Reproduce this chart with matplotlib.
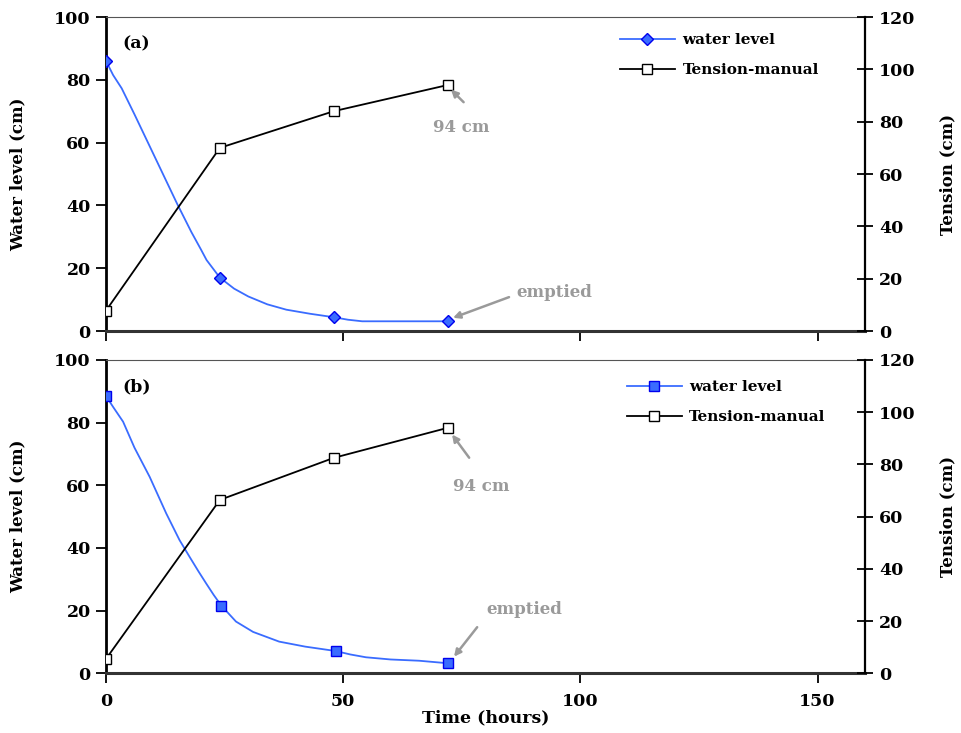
import matplotlib
matplotlib.use("Agg")
import matplotlib.pyplot as plt

plt.rcParams['font.family'] = ['DejaVu Serif']
plt.rcParams['font.weight'] = 'bold'
plt.rcParams['axes.labelweight'] = 'bold'

# panel (a): water level trace (hours, cm) and manual tensiometer readings
t_a = [0, 1.5, 3.3, 6, 9, 12, 15, 18, 20, 21.2, 22.5, 24, 27, 30, 34, 38, 43, 48, 51, 54, 60, 66, 72]
wl_a = [86, 81.5, 77.3, 69, 59.5, 50, 40.5, 31.5, 26, 22.6, 20, 17, 13.5, 11, 8.5, 6.8, 5.5, 4.4, 3.6, 3.1, 3.1, 3.1, 3.1]
tens_t_a = [0, 24, 48, 72]
tens_a = [7.8, 70, 84, 94]

# panel (b)
t_b = [0, 1.5, 3.6, 6, 9.2, 12.7, 15.5, 17.6, 19.5, 21.1, 22.7, 24.3, 27.4, 31, 36.5, 42, 48.4, 51.5, 54.8, 60, 66, 72]
wl_b = [88.5, 85, 80.3, 72, 62.7, 51, 42.5, 37.2, 32.5, 28.7, 25, 21.6, 16.5, 13.2, 10.1, 8.5, 7.1, 6.0, 5.1, 4.4, 4.0, 3.2]
tens_t_b = [0, 24, 48, 72]
tens_b = [5.5, 66.4, 82.5, 94]

marker_t_a = [0, 24, 48, 72]
marker_t_b = [0, 24.3, 48.4, 72]

BLUE = '#3a6cff'
GREY = '#9a9a9a'

fig = plt.figure(figsize=(9.62, 7.33), dpi=100)
ax_a = fig.add_axes([0.1102, 0.5484, 0.789, 0.4284])
ax_b = fig.add_axes([0.1102, 0.0815, 0.789, 0.4274])


def draw_panel(ax, t, wl, mt, tt, tens, marker, msize, tag, leg_xy, note94, note_empty):
    ev = [t.index(m) for m in mt]
    l1, = ax.plot(t, wl, color=BLUE, lw=1.3, marker=marker, ms=msize, markevery=ev,
                  mfc=BLUE, mec='#0000ee', mew=1.0, label='water level', zorder=3)
    ax.set_xlim(0, 160)
    ax.set_ylim(0, 100)
    ax.set_yticks([0, 20, 40, 60, 80, 100])
    ax.set_xticks([0, 50, 100, 150])
    ax.set_ylabel('Water level (cm)', fontsize=12, labelpad=20)
    ax.tick_params(axis='y', direction='out', length=7, width=1.3, labelsize=12.5, pad=4)
    ax.tick_params(axis='x', direction='out', length=7, width=1.3, labelsize=12.5, pad=7)
    ax.spines['left'].set_linewidth(2)
    ax.spines['bottom'].set_linewidth(2.2)
    ax.spines['bottom'].set_color('#333333')
    ax.spines['top'].set_linewidth(0.8)
    ax.spines['top'].set_color('#555555')
    ax.spines['right'].set_visible(False)
    ax.text(0.021, 0.915, tag, transform=ax.transAxes, fontsize=12.5, fontweight='bold',
            va='center', ha='left')

    tw = ax.twinx()
    l2, = tw.plot(tt, tens, color='black', lw=1.3, marker='s', ms=6.5, mfc='white',
                  mec='black', mew=1.0, label='Tension-manual', zorder=3)
    tw.set_ylim(0, 120)
    tw.set_yticks([0, 20, 40, 60, 80, 100, 120])
    tw.set_ylabel('Tension (cm)', fontsize=12, labelpad=17)
    tw.tick_params(axis='y', direction='inout', length=12, width=1.3, labelsize=12.5, pad=4)
    tw.spines['right'].set_linewidth(1.6)
    for s in ('left', 'top', 'bottom'):
        tw.spines[s].set_visible(False)

    # annotations
    tx, ty, ax_t, ay_t, hx, hy = note94
    tw.text(tx, ty, '94 cm', color=GREY, fontsize=12, fontweight='bold', ha='center', va='center')
    tw.annotate('', xy=(hx, hy), xytext=(ax_t, ay_t),
                arrowprops=dict(arrowstyle='-|>', color=GREY, lw=1.8, mutation_scale=10))
    tx, ty, ax_t, ay_t, hx, hy = note_empty
    ax.text(tx, ty, 'emptied', color=GREY, fontsize=12, fontweight='bold', ha='center', va='center')
    ax.annotate('', xy=(hx, hy), xytext=(ax_t, ay_t),
                arrowprops=dict(arrowstyle='-|>', color=GREY, lw=1.8, mutation_scale=10))

    tw.legend(handles=[l1, l2], loc='upper left', bbox_to_anchor=leg_xy, frameon=False,
              handlelength=3.6, handletextpad=0.5, labelspacing=1.05,
              borderpad=0, borderaxespad=0, prop={'weight': 'bold', 'size': 11})
    return tw


draw_panel(ax_a, t_a, wl_a, marker_t_a, tens_t_a, tens_a, 'D', 6.5, '(a)', (0.677, 0.948),
           (74.8, 77.6, 75.8, 86.7, 72.3, 93.0),
           (94.5, 12.4, 85.5, 11.1, 72.6, 3.9))
draw_panel(ax_b, t_b, wl_b, marker_t_b, tens_t_b, tens_b, 's', 7, '(b)', (0.686, 0.935),
           (79.0, 71.4, 76.9, 81.7, 72.6, 92.3),
           (88.2, 20.5, 78.6, 15.4, 73.0, 4.6))

ax_a.tick_params(axis='x', labelbottom=False)
ax_b.set_xlabel('Time (hours)', fontsize=12.5, labelpad=0)

fig.savefig('out.png', dpi=100)
